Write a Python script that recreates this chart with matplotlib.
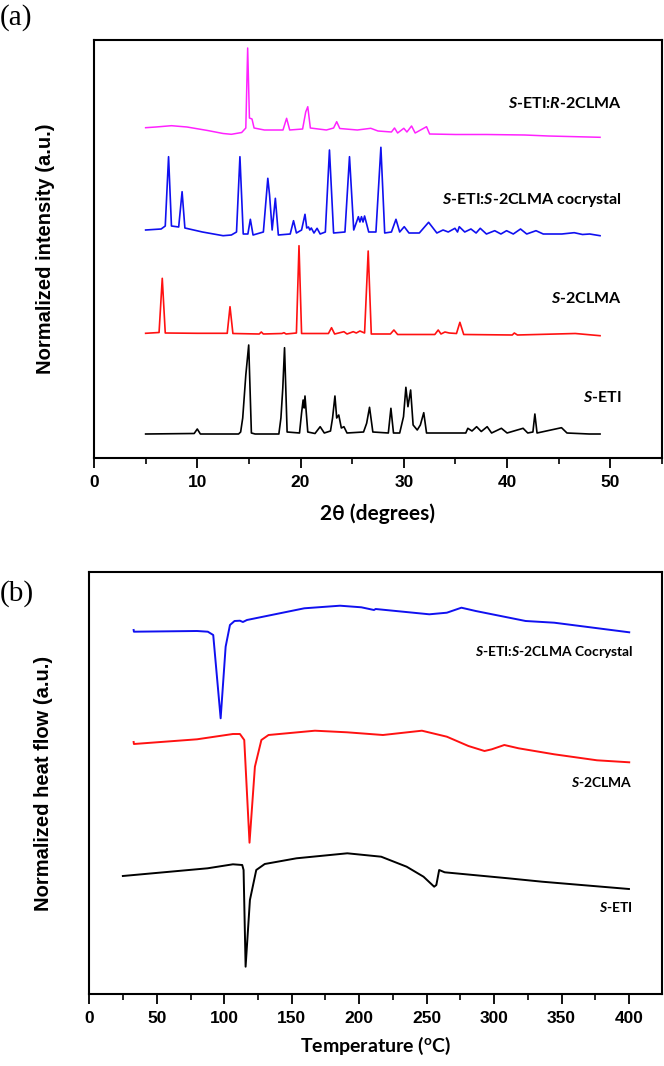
import matplotlib
matplotlib.use("Agg")
import matplotlib.pyplot as plt
from matplotlib.ticker import MultipleLocator

# ---------------- (a) XRD data: 2theta (deg) and intensity (a.u., offset) ----------------
etiR_x = [5.0, 6.0, 7.5, 9.0, 11.0, 12.5, 13.3, 14.3, 14.7, 14.88, 15.05, 15.3, 15.5, 16.5, 18.3,
          18.65, 18.95, 20.2, 20.5, 20.7, 20.95, 22.5, 23.2, 23.5, 23.8, 25.5, 26.8, 27.5, 28.8,
          29.1, 29.4, 30.0, 30.3, 30.75, 31.1, 32.2, 32.5, 35.0, 38.0, 41.7, 44.0, 49.0]
etiR_y = [330.3, 331, 332.3, 331, 327.5, 324.5, 323.7, 325.5, 330, 410, 340, 339, 330, 328, 328,
          339.7, 328, 329, 346, 351.3, 330, 328, 330, 336.3, 329.5, 328, 329.7, 327, 326,
          330, 325, 329.7, 326, 332, 325, 331.3, 324, 323.5, 323.5, 323, 322, 320.7]

co_x = [5.0, 6.5, 6.9, 7.22, 7.5, 8.2, 8.53, 8.8, 10.5, 12.5, 13.3, 13.8, 14.13, 14.45, 14.9, 15.14,
        15.4, 16.4, 16.83, 17.0, 17.25, 17.56, 17.85, 19.0, 19.32, 19.6, 20.1, 20.43, 20.6, 20.77,
        20.9, 21.04, 21.3, 21.6, 21.9, 22.4, 22.8, 23.2, 24.3, 24.74, 25.15, 25.6, 25.75, 25.9,
        26.05, 26.2, 26.6, 27.3, 27.78, 28.15, 28.8, 29.24, 29.6, 30.04, 30.5, 31.5, 32.4, 33.2,
        33.8, 34.3, 34.95, 35.2, 35.37, 35.9, 36.5, 37.0, 37.4, 38.0, 38.8, 39.4, 39.95, 40.6,
        41.3, 41.9, 42.8, 43.5, 45.3, 46.5, 47.3, 48.0, 49.0]
co_y = [228, 229, 232, 301.3, 232, 231, 266.3, 230, 226, 222.3, 223, 226, 301.3, 224, 224, 238.7,
        223, 226, 279.7, 263, 228, 259.7, 223, 224, 237.3, 225, 228, 243.7, 230, 231,
        228, 230, 225, 229.7, 224, 226, 308, 225, 226, 301.3, 228, 241.3, 236, 241.3,
        236, 242, 226, 226, 310.7, 225, 226, 238.7, 226, 231.3, 225, 225, 235.7, 225,
        228, 226, 229.7, 226, 231.3, 226, 229, 225, 229.7, 224, 227.3, 224, 227.3, 224,
        229, 224, 227.3, 224, 224, 225.3, 223.5, 224, 222.3]

s2c_x = [5.0, 6.3, 6.61, 6.9, 10.0, 12.9, 13.17, 13.45, 16.0, 16.2, 16.4, 18.2, 18.4, 18.6, 19.6,
         19.85, 20.1, 22.7, 23.0, 23.3, 24.2, 24.5, 25.1, 25.4, 25.75, 26.2, 26.55, 26.85, 28.7,
         29.04, 29.4, 33.0, 33.33, 33.6, 33.98, 34.4, 35.1, 35.43, 35.8, 40.5, 40.7, 41.0, 46.6, 49.0]
s2c_y = [124.7, 125.5, 179.7, 125, 124.7, 124.7, 151.3, 124.5, 124, 126, 124, 124.5, 125.3, 124, 125,
         212.3, 124.5, 124.5, 130.3, 124, 126.3, 124, 126.3, 125, 127, 125, 207, 124, 124,
         128, 123.5, 123.5, 128, 124, 126, 125, 124.5, 135.7, 123.5, 123, 125, 123, 124.5, 122.3]

eti_x = [5.0, 9.7, 10.0, 10.3, 14.0, 14.2, 14.4, 14.7, 14.98, 15.24, 15.6, 17.9, 18.1, 18.28, 18.45,
         18.7, 19.9, 20.1, 20.25, 20.35, 20.43, 20.7, 21.4, 21.9, 22.3, 22.9, 23.1, 23.33, 23.5,
         23.7, 23.95, 24.2, 24.5, 26.1, 26.4, 26.68, 27.0, 28.5, 28.75, 29.0, 29.6, 29.97, 30.2,
         30.4, 30.66, 30.9, 31.3, 31.6, 31.93, 32.2, 36.0, 36.2, 36.6, 37.05, 37.5, 38.07, 38.5,
         39.45, 40.0, 41.55, 42.0, 42.5, 42.69, 42.9, 45.27, 45.8, 47.95, 49.0]
eti_y = [24, 24.5, 29, 24, 24, 26, 40, 83, 113, 25, 24, 24, 40, 69.7, 110.3,
         26, 25, 45, 58, 50, 62, 26, 24.5, 31.3, 25, 27, 40, 62, 40,
         43, 30, 31.3, 25, 26, 34.7, 50.7, 26, 25, 49.7, 25, 25, 41.3, 70.7,
         51.3, 68, 33, 28, 33, 45.3, 25, 25, 29.7, 27, 31.3, 26.5, 31.3, 25,
         29.7, 25, 29.7, 25, 26, 44, 25, 30.3, 25, 24, 24]

xrd_labels = ["S-ETI:R-2CLMA", "S-ETI:S-2CLMA cocrystal", "S-2CLMA", "S-ETI"]
xrd_ticks = [0, 10, 20, 30, 40, 50]

# ---------------- (b) DSC data: temperature (C) and heat flow (a.u., offset) ----------------
dsc_co_x = [32.8, 33.0, 79.8, 87.8, 91.8, 97.3, 101.0, 104.2, 107.6, 111.6, 113.8, 116.8, 159.3, 185.8,
            201.6, 211.0, 212.2, 252.0, 265.0, 275.8, 286.4, 323.4, 344.6, 400.2]
dsc_co_y = [364, 362.3, 363, 362.3, 359, 275.7, 347.3, 369, 373, 373.3, 372, 374, 385.7, 388.3,
            386.7, 384, 385, 379.7, 381.3, 386.3, 383, 373, 371.3, 361.7]

dsc_s2c_x = [32.8, 33.0, 79.8, 106.4, 111.6, 114.8, 118.7, 122.7, 127.5, 132.8, 167.2, 191.0, 217.6,
             246.5, 265.0, 281.0, 292.9, 298.3, 307.6, 318.2, 344.6, 376.3, 400.2]
dsc_s2c_y = [252, 250, 254.7, 260, 260, 254, 151.3, 227.3, 254, 259, 263.3, 261.7, 259,
             263.3, 257.3, 248, 243, 244.7, 249, 245.7, 239.7, 233.7, 231.7]

dsc_eti_x = [24.8, 87.6, 106.4, 113.3, 114.3, 115.8, 119.0, 123.7, 130.0, 153.5, 191.2, 216.3, 235.2,
             247.7, 255.6, 257.2, 259.3, 263.4, 310.5, 335.6, 400.0]
dsc_eti_y = [118, 125.7, 129.7, 129, 124, 27.3, 94, 124, 130, 135.7, 140.7, 137.3, 127.3,
             117.3, 107.3, 109, 124, 121.7, 115.7, 112.3, 105]

dsc_labels = ["S-ETI:S-2CLMA Cocrystal", "S-2CLMA", "S-ETI"]
dsc_ticks = [0, 50, 100, 150, 200, 250, 300, 350, 400]

# ---------------- figure ----------------
W, H = 664, 1066
fig = plt.figure(figsize=(W / 100, H / 100), dpi=100)
plt.rcParams["mathtext.fontset"] = "custom"
plt.rcParams["mathtext.bfit"] = "Lato:italic:bold"
plt.rcParams["mathtext.it"] = "Lato:italic"


def frac(x0, y0, x1, y1):
    return [x0 / W, 1 - y1 / H, (x1 - x0) / W, (y1 - y0) / H]


tick_family = ["Liberation Sans", "DejaVu Sans"]
lab_font = ["Lato", "DejaVu Sans"]


def style_axes(ax, ticks, minor):
    for s in ax.spines.values():
        s.set_linewidth(1.5)
    ax.set_yticks([])
    ax.set_xticks(ticks, [str(t) for t in ticks], family=tick_family, fontweight="bold",
                  fontsize=12.5)
    ax.xaxis.set_minor_locator(MultipleLocator(minor))
    ax.tick_params(axis="x", which="major", direction="out", length=7, width=1.3, pad=5)
    ax.tick_params(axis="x", which="minor", direction="out", length=4, width=1.2)


def mathlabel(s):
    # italicise the stereo descriptors S / R
    return s.replace("S-", r"$\mathbfit{S}$-").replace("R-", r"$\mathbfit{R}$-")


# ---- panel (a)
axa = fig.add_axes(frac(94, 40, 662, 458))
axa.plot(etiR_x, etiR_y, color="#ff22ff", lw=1.1)
axa.plot(co_x, co_y, color="#1010f0", lw=1.2)
axa.plot(s2c_x, s2c_y, color="#ff1111", lw=1.2)
axa.plot(eti_x, eti_y, color="black", lw=1.2)
axa.set_xlim(0, 55)
axa.set_ylim(0, 418)
style_axes(axa, xrd_ticks, 5)
axa.set_xlabel("2θ (degrees)", family=lab_font, fontweight="bold", fontsize=15, labelpad=10)
axa.set_ylabel("Normalized intensity (a.u.)", family=["Liberation Sans", "DejaVu Sans"],
               fontweight="bold", fontsize=14.5, labelpad=28)

xrd_label_y = [354.7, 258, 159.7, 60.3]
for txt, yy in zip(xrd_labels, xrd_label_y):
    axa.text(51.1, yy, mathlabel(txt), ha="right", va="center", family=lab_font,
             fontweight="bold", fontsize=11.5)

fig.text(0 / W, 1 - 18 / H, "(a)", family=["Liberation Serif", "DejaVu Serif"], fontsize=21,
         ha="left", va="center")

# ---- panel (b)
axb = fig.add_axes(frac(89.4, 572, 662, 994))
axb.plot(dsc_co_x, dsc_co_y, color="#1010f0", lw=1.4)
axb.plot(dsc_s2c_x, dsc_s2c_y, color="#ff1111", lw=1.4)
axb.plot(dsc_eti_x, dsc_eti_y, color="black", lw=1.4)
axb.set_xlim(0, 424.5)
axb.set_ylim(0, 422)
style_axes(axb, dsc_ticks, 25)
axb.set_xlabel("Temperature ($\\mathregular{^o}$C)", family=lab_font, fontweight="bold",
               fontsize=14, labelpad=7)
axb.set_ylabel("Normalized heat flow (a.u.)", family=["Liberation Sans", "DejaVu Sans"],
               fontweight="bold", fontsize=14.5, labelpad=26)

dsc_label_y = [342.3, 212.3, 87.3]
for txt, yy in zip(dsc_labels, dsc_label_y):
    axb.text(403, yy, mathlabel(txt), ha="right", va="center", family=lab_font,
             fontweight="bold", fontsize=10)

fig.text(0 / W, 1 - 594 / H, "(b)", family=["Liberation Serif", "DejaVu Serif"], fontsize=21,
         ha="left", va="center")

fig.savefig("out.png", dpi=100)
